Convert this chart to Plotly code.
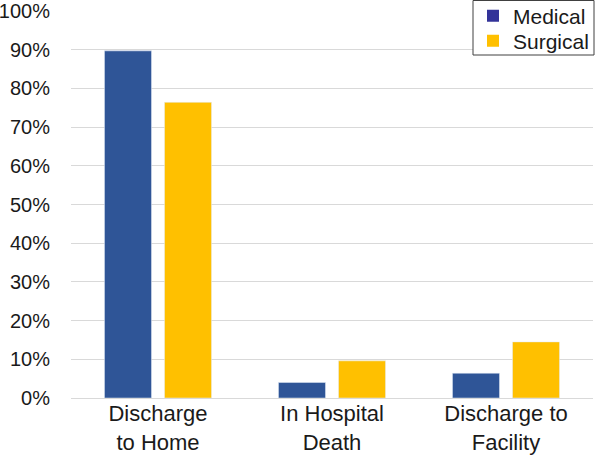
import plotly.graph_objects as go

categories = ["Discharge<br>to Home", "In Hospital<br>Death", "Discharge to<br>Facility"]
medical = [89.7, 4.0, 6.4]
surgical = [76.4, 9.6, 14.5]
y_ticks = [0, 10, 20, 30, 40, 50, 60, 70, 80, 90, 100]
y_tick_labels = [f"{v}%" for v in y_ticks]

W, H = 597, 455
L, R, T, B = 71, 4, 11, 57
pw, ph = W - L - R, H - T - B

fig = go.Figure()
fig.add_trace(go.Bar(x=categories, y=medical, name="Medical", marker_color="#2F5597",
                     showlegend=False))
fig.add_trace(go.Bar(x=categories, y=surgical, name="Surgical", marker_color="#FFC000",
                     showlegend=False))
# legend-only entries
fig.add_trace(go.Scatter(x=[None], y=[None], mode="markers", name="Medical",
                         marker=dict(symbol="square", size=14, color="#333399"),
                         legend="legend"))
fig.add_trace(go.Scatter(x=[None], y=[None], mode="markers", name="Surgical",
                         marker=dict(symbol="square", size=14, color="#FFC000"),
                         legend="legend2"))

leg_common = dict(xref="container", yref="container", x=473 / W,
                  xanchor="left", yanchor="middle", borderwidth=0,
                  bgcolor="rgba(0,0,0,0)", font=dict(size=21),
                  itemsizing="constant", itemwidth=30)

fig.update_layout(
    width=W, height=H,
    margin=dict(l=L, r=R, t=T, b=B, autoexpand=False),
    paper_bgcolor="white", plot_bgcolor="white",
    barmode="group", bargap=0.31, bargroupgap=0.217,
    font=dict(family="Liberation Sans, Arial, sans-serif", color="#1a1a1a"),
    legend=dict(y=1 - 16 / H, **leg_common),
    legend2=dict(y=1 - 41 / H, **leg_common),
    xaxis=dict(tickfont=dict(size=22), showgrid=False, zeroline=False,
               showline=False, ticks=""),
    yaxis=dict(range=[0, 100], tickvals=y_ticks, ticktext=y_tick_labels,
               tickfont=dict(size=20), showgrid=True, gridcolor="#D9D9D9",
               gridwidth=1.3, zeroline=True, zerolinecolor="#D9D9D9",
               zerolinewidth=1.3, showline=False, ticks="", ticklen=0,
               automargin=False, ticklabelstandoff=20),
)
# legend frame
fig.add_shape(type="rect", xref="paper", yref="paper",
              x0=(473 - L) / pw, x1=(594 - L) / pw,
              y0=(H - B - 55) / ph, y1=(H - B - 0.5) / ph,
              line=dict(color="#404040", width=1), fillcolor="white", layer="above")

fig.write_html("out.html", config={"displayModeBar": False},
               post_script="document.body.style.margin='0';document.body.style.overflow='hidden';")
